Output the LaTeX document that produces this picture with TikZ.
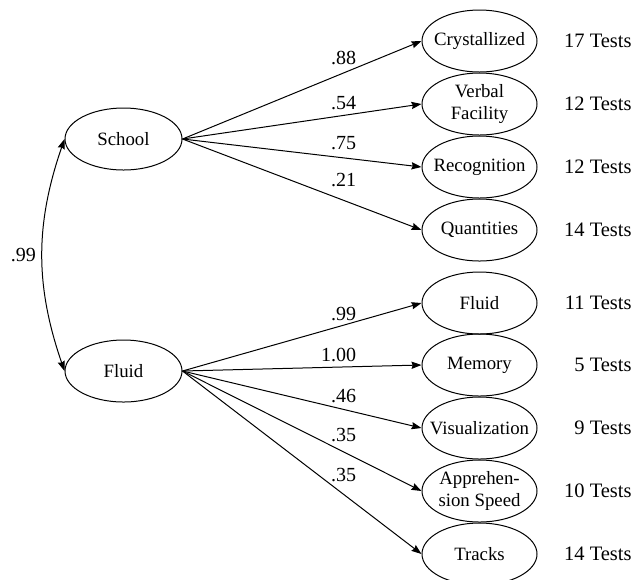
\documentclass[tikz,border=0pt]{standalone}
\usepackage{fontspec}
\setmainfont{Liberation Serif}
\usetikzlibrary{shapes.geometric,arrows.meta}
\begin{document}
\begin{tikzpicture}[x=0.5pt,y=-0.5pt,
  oval/.style={ellipse,draw,line width=0.5pt,minimum width=57.5pt,minimum height=31pt,inner sep=0pt},
  lbl/.style={font=\fontsize{9.4}{11}\selectfont,align=center,inner sep=0pt},
  tests/.style={font=\fontsize{10.25}{12}\selectfont,anchor=east,inner sep=0pt},
  tip/.tip={Stealth[length=5pt,width=3.6pt,inset=0.6pt]},
  load/.style={-tip,line width=0.5pt},
  coef/.style={font=\fontsize{10}{12}\selectfont,inner sep=0pt,pos=0.729,anchor=base east}]
\clip (0,0) rectangle (635,579);
% latent factors
\node[oval,minimum width=58.5pt] (school) at (123.5,139) {};
\node[lbl] at (school) {School};
\node[oval,minimum width=58.5pt] (fluidL) at (123.5,371) {};
\node[lbl] at (fluidL) {Fluid};
% first-order factors
\node[oval] (cry) at (479.5,41) {};
\node[lbl] at (cry) {Crystallized};
\node[oval] (verb) at (479.5,104) {};
\node[lbl] at (verb) {Verbal\\Facility};
\node[oval] (rec) at (479.5,167) {};
\node[lbl] at (rec) {Recognition};
\node[oval] (quant) at (479.5,230) {};
\node[lbl] at (quant) {Quantities};
\node[oval] (fluidR) at (479.5,303) {};
\node[lbl] at (fluidR) {Fluid};
\node[oval] (mem) at (479.5,365) {};
\node[lbl] at (mem) {Memory};
\node[oval] (vis) at (479.5,428) {};
\node[lbl] at (vis) {Visualization};
\node[oval] (app) at (479.5,491) {};
\node[lbl] at (app) {Apprehen-\\sion Speed};
\node[oval] (track) at (479.5,554) {};
\node[lbl] at (track) {Tracks};
% test counts
\node[tests] (t1) at (632,41) {17 Tests};
\node[tests] (t2) at (632,104) {12 Tests};
\node[tests] (t3) at (632,167) {12 Tests};
\node[tests] (t4) at (632,230) {14 Tests};
\node[tests] (t5) at (632,303) {11 Tests};
\node[tests] (t6) at (632,365) {5 Tests};
\node[tests] (t7) at (632,428) {9 Tests};
\node[tests] (t8) at (632,491) {10 Tests};
\node[tests] (t9) at (632,554) {14 Tests};
% loadings
\draw[load] (school.east) -- node[coef,yshift=1.7pt]{.88} (cry.west);
\draw[load] (school.east) -- node[coef,yshift=1.8pt]{.54} (verb.west);
\draw[load] (school.east) -- node[coef,yshift=5.2pt]{.75} (rec.west);
\draw[load] (school.east) -- node[coef,yshift=9.2pt]{.21} (quant.west);
\draw[load] (fluidL.east) -- node[coef,yshift=0.3pt]{.99} (fluidR.west);
\draw[load] (fluidL.east) -- node[coef,yshift=2.45pt]{1.00} (mem.west);
\draw[load] (fluidL.east) -- node[coef,yshift=4.9pt]{.46} (vis.west);
\draw[load] (fluidL.east) -- node[coef,yshift=8.25pt]{.35} (app.west);
\draw[load] (fluidL.east) -- node[coef,yshift=11.65pt]{.35} (track.west);
% correlation
\draw[tip-tip,line width=0.5pt] (school.west) to[bend right=19]
  node[midway,anchor=east,inner sep=0pt,xshift=-3pt,font=\fontsize{10}{12}\selectfont]{.99} (fluidL.west);
\end{tikzpicture}
\end{document}
